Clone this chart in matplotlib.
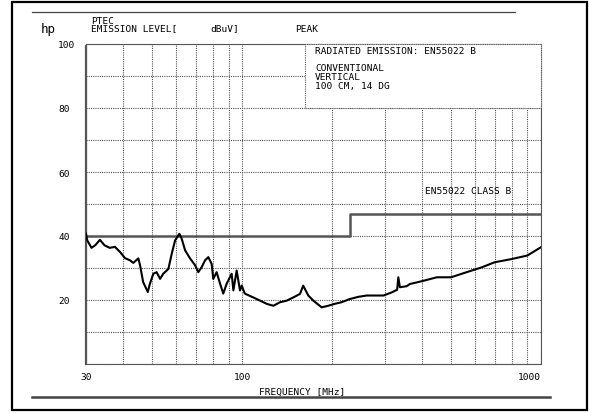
import matplotlib
matplotlib.use('Agg')
import matplotlib.pyplot as plt
from matplotlib.patches import Rectangle
from matplotlib.lines import Line2D

# trace (MHz, dBuV)
freq = [30, 30.3, 31.3, 32.2, 33.4, 34.6, 36.0, 37.5, 39.0, 40.5, 42.1, 43.2,
        44.9, 45.5, 46.6, 48.3, 49.1, 50.4, 51.7, 53.1, 54.4, 56.6, 58.1, 59.6,
        61.6, 62.7, 64.4, 66.9, 69.5, 71.3, 73.2, 75.1, 77.0, 79.0, 80.0, 82.1,
        84.3, 86.4, 88.7, 92.2, 93.4, 95.8, 98.3, 99.6, 102, 104.8, 108.9,
        114.7, 120.8, 127.1, 133.8, 140.9, 148.2, 156.1, 160, 162.2, 166.4,
        173, 184.5, 194, 204, 215, 229, 245, 261, 278, 297, 317, 330, 333,
        337, 355, 364, 384, 404, 448, 500, 564, 633, 700, 798, 900, 1000]
level = [40.7, 38.6, 36.3, 37.1, 38.8, 37.1, 36.3, 36.6, 35.0, 33.1, 32.4, 31.6,
         33.0, 30.9, 25.6, 22.5, 25.1, 28.2, 28.7, 26.6, 28.2, 29.7, 34.5, 38.6,
         40.7, 39.2, 35.5, 33.0, 30.9, 28.7, 30.3, 32.4, 33.4, 31.3, 26.6, 28.7,
         25.1, 22.0, 25.1, 28.2, 23.0, 29.2, 23.0, 24.5, 22.0, 21.5, 20.8,
         19.8, 18.8, 18.2, 19.3, 19.8, 20.8, 21.9, 24.5, 23.4, 21.4,
         19.8, 17.7, 18.2, 18.8, 19.3, 20.3, 21.0, 21.4, 21.4, 21.4, 22.4, 23.2, 27.1,
         24.0, 24.3, 25.0, 25.5, 26.0, 27.1, 27.1, 28.7, 30.2, 31.8, 32.8, 33.9, 36.5]

# EN55022 class B limit
limit_f = [30, 230, 230, 1000]
limit_db = [40, 40, 47, 47]

xgrid = [30, 40, 50, 60, 70, 80, 90, 100, 200, 300, 400, 500, 600, 700, 800, 900, 1000]
ygrid = [0, 10, 20, 30, 40, 50, 60, 70, 80, 90, 100]
ylabels = ['', '', '20', '', '40', '', '60', '', '80', '', '100']

mono = 'DejaVu Sans Mono'
fs = 6.8

fig = plt.figure(figsize=(5.89, 4.14), dpi=100)
ax = fig.add_axes([86/589, 1-365/414, 455/589, 320/414])

ax.set_xscale('log')
ax.set_xlim(30, 1000)
ax.set_ylim(0, 100)

ax.set_xticks(xgrid)
ax.set_xticklabels(['30' if f == 30 else '100' if f == 100 else '1000' if f == 1000 else '' for f in xgrid],
                   fontfamily=mono, fontsize=fs)
ax.minorticks_off()
ax.set_yticks(ygrid)
ax.set_yticklabels(ylabels, fontfamily=mono, fontsize=fs)
ax.tick_params(length=0)
ax.tick_params(axis='y', pad=20)
ax.tick_params(axis='x', pad=6)
for lab in ax.get_yticklabels():
    lab.set_horizontalalignment('left')
ax.get_xticklabels()[-1].set_horizontalalignment('right')

ax.grid(True, color='#555555', linestyle=(0, (1, 1)), linewidth=0.8)
for s in ax.spines.values():
    s.set_linestyle((0, (1, 1)))
    s.set_color('#555555')
    s.set_linewidth(0.8)
ax.spines['left'].set_linewidth(1.6)

# limit and trace
ax.plot(limit_f, limit_db, color='#555555', lw=1.8, zorder=3)
ax.plot(freq, level, color='black', lw=1.5, zorder=4)

# white box with measurement info
box = Rectangle((0.481, 0.8), 0.519, 0.2, transform=ax.transAxes, facecolor='white',
                edgecolor='#555555', linestyle=(0, (1, 1)), lw=0.8, zorder=5, clip_on=False)
ax.add_patch(box)
ax.text(315/589, 1-52/414, 'RADIATED EMISSION: EN55022 B', transform=fig.transFigure,
        fontfamily=mono, fontsize=fs, va='center', zorder=6)
ax.text(315/589, 1-78/414, 'CONVENTIONAL\nVERTICAL\n100 CM, 14 DG', transform=fig.transFigure,
        fontfamily=mono, fontsize=fs, va='center', linespacing=1.0, zorder=6)
ax.text(425/589, 1-191/414, 'EN55022 CLASS B', transform=fig.transFigure,
        fontfamily=mono, fontsize=fs, va='center', zorder=6)

# header
fig.text(41/589, 1-29/414, 'hp', fontfamily=mono, fontsize=9, va='center')
fig.text(91/589, 1-21/414, 'PTEC', fontfamily=mono, fontsize=fs, va='center')
fig.text(91/589, 1-29/414, 'EMISSION LEVEL[', fontfamily=mono, fontsize=fs, va='center')
fig.text(210/589, 1-29/414, 'dBuV]', fontfamily=mono, fontsize=fs, va='center')
fig.text(295/589, 1-29/414, 'PEAK', fontfamily=mono, fontsize=fs, va='center')
fig.text(302/589, 1-392/414, 'FREQUENCY [MHz]', fontfamily=mono, fontsize=fs,
         va='center', ha='center')

# rules and frame
fig.add_artist(Line2D([32/589, 515/589], [1-13/414, 1-13/414], color='#444444', lw=0.9))
fig.add_artist(Line2D([32/589, 550/589], [1-398/414, 1-398/414], color='#444444', lw=1.8))
fig.add_artist(Rectangle((12/589, 3/414), 575/589, 408/414, fill=False,
                         edgecolor='black', lw=1.6))

plt.savefig('out.png', dpi=100)
